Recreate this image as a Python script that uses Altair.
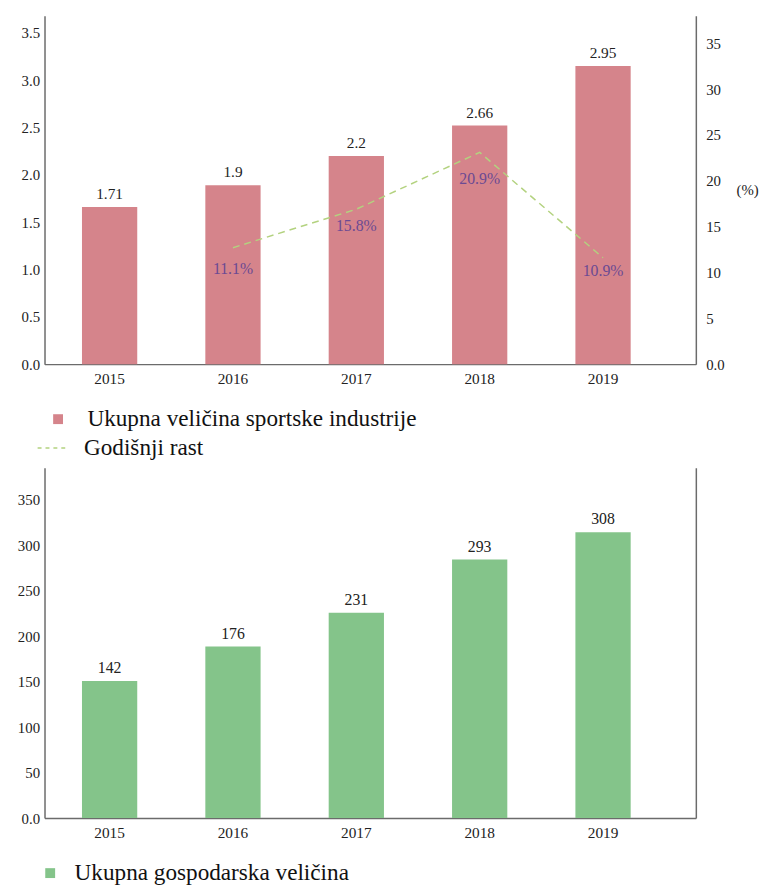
import altair as alt
import pandas as pd

# ---- data ----
years = ["2015", "2016", "2017", "2018", "2019"]
sport_size = [1.66, 1.89, 2.20, 2.52, 3.15]          # bar heights as drawn
sport_labels = ["1.71", "1.9", "2.2", "2.66", "2.95"]  # printed labels
growth_years = ["2016", "2017", "2018", "2019"]
growth_line = [12.7, 16.9, 23.1, 11.6]                 # dashed line as drawn (%)
growth_labels = [11.1, 15.8, 20.9, 10.9]               # printed growth labels (%)
econ_size = [150.6, 188.5, 225.7, 284.2, 314.2]        # bar heights as drawn
econ_labels = ["142", "176", "231", "293", "308"]      # printed labels

SERIES_SPORT = "Ukupna veličina sportske industrije"
SERIES_GROWTH = "Godišnji rast"
SERIES_ECON = "Ukupna gospodarska veličina"

FONT = "Liberation Serif"
RED = "#d5848b"
GREEN = "#84c48a"
LINE = "#b3d27f"
PURPLE = "#6b4a93"
AXIS = "#6b6b6b"
TXT = "#222222"

sport_df = pd.DataFrame({"year": years, "value": sport_size,
                         "label": sport_labels, "series": SERIES_SPORT})
growth_df = pd.DataFrame({"year": growth_years, "line": growth_line,
                          "labelval": growth_labels, "series": SERIES_GROWTH})
growth_df["label"] = [f"{v}%" for v in growth_labels]
econ_df = pd.DataFrame({"year": years, "value": econ_size,
                        "label": econ_labels, "series": SERIES_ECON})

W = 660
H1 = 353
H2 = 355

xscale = alt.Scale(paddingInner=0.552, paddingOuter=0.416, align=0.365)
xaxis = alt.Axis(title=None, labelAngle=0, ticks=False, grid=False,
                 domainColor=AXIS, domainWidth=1.5, labelFont=FONT,
                 labelFontSize=15.5, labelColor=TXT, labelPadding=8)
X = alt.X("year:N", scale=xscale, axis=xaxis)


def yaxis(values, **kw):
    return alt.Axis(title=None, values=values, ticks=False, grid=False,
                    domainColor=AXIS, domainWidth=1.5, labelFont=FONT,
                    labelFontSize=15, labelColor=TXT, labelPadding=5, **kw)


def legend(x, y, offset, size=23.5, **kw):
    return alt.Legend(orient="none", legendX=x, legendY=y, title=None,
                      labelFont=FONT, labelFontSize=size, labelColor="#111",
                      labelOffset=offset, labelLimit=600, padding=0, **kw)


# ---------------- top panel ----------------
bars1 = alt.Chart(sport_df).mark_bar().encode(
    x=X,
    y=alt.Y("value:Q", scale=alt.Scale(domain=[0, 3.68], nice=False),
            axis=yaxis([0, 0.5, 1, 1.5, 2, 2.5, 3, 3.5], format=".1f")),
    fill=alt.Fill("series:N", scale=alt.Scale(range=[RED]),
                  legend=legend(2, 397, 18, symbolType="square",
                                symbolSize=100, symbolStrokeWidth=0)),
)
text1 = alt.Chart(sport_df).mark_text(
    baseline="bottom", dy=-5, font=FONT, fontSize=15.5, color=TXT
).encode(x=X, y="value:Q", text="label:N")

line1 = alt.Chart(growth_df).mark_line(strokeDash=[7, 5], strokeWidth=1.5).encode(
    x=X,
    y=alt.Y("line:Q", scale=alt.Scale(domain=[0, 38], nice=False),
            axis=alt.Axis(
                orient="right", values=[0, 5, 10, 15, 20, 25, 30, 35],
                labelExpr="datum.value == 0 ? '0.0' : datum.label",
                ticks=False, grid=False, domainColor=AXIS, domainWidth=1.5,
                labelFont=FONT, labelFontSize=15, labelColor=TXT,
                labelPadding=10, title="(%)", titleAngle=0, titleX=52,
                titleY=176, titleAlign="center", titleBaseline="middle",
                titleFont=FONT, titleFontSize=15, titleFontWeight="normal",
                titleColor=TXT)),
    stroke=alt.Stroke("series:N", scale=alt.Scale(range=[LINE]),
                      legend=legend(-8, 422, 16, symbolType="stroke",
                                    symbolSize=900, symbolDash=[4, 4],
                                    symbolStrokeWidth=1.5)),
)
text_pct = alt.Chart(growth_df).mark_text(
    baseline="middle", dy=7, font=FONT, fontSize=16, color=PURPLE
).encode(x=X, y="labelval:Q", text="label:N")

top = alt.layer(
    alt.layer(bars1, text1),
    alt.layer(line1, text_pct),
).resolve_scale(y="independent").properties(width=W, height=H1)

# ---------------- bottom panel ----------------
yscale2 = alt.Scale(domain=[0, 385], nice=False)
bars2 = alt.Chart(econ_df).mark_bar().encode(
    x=X,
    y=alt.Y("value:Q", scale=yscale2,
            axis=yaxis([0, 50, 100, 150, 200, 250, 300, 350],
                       labelExpr="datum.value == 0 ? '0.0' : datum.label")),
    fill=alt.Fill("series:N", scale=alt.Scale(range=[GREEN]),
                  legend=legend(-6, 399, 13, size=23.5, symbolType="square",
                                symbolSize=100, symbolStrokeWidth=0)),
)
text2 = alt.Chart(econ_df).mark_text(
    baseline="bottom", dy=-5, font=FONT, fontSize=16, color=TXT
).encode(
    x=X,
    y=alt.Y("value:Q", scale=yscale2,
            axis=alt.Axis(orient="right", labels=False, ticks=False,
                          grid=False, title=None, domainColor=AXIS,
                          domainWidth=1.5)),
    text="label:N",
)
bottom = alt.layer(bars2, text2).resolve_axis(y="independent").properties(
    width=W, height=H2)

chart = alt.vconcat(top, bottom, spacing=37).resolve_scale(
    fill="independent", x="independent"
).properties(
    padding={"left": 9, "top": 2, "right": 0, "bottom": 0}
).configure(font=FONT).configure_view(stroke=None).configure_legend(
    labelFont=FONT
)

chart.save("out.html", embed_options={"renderer": "svg", "actions": False})
